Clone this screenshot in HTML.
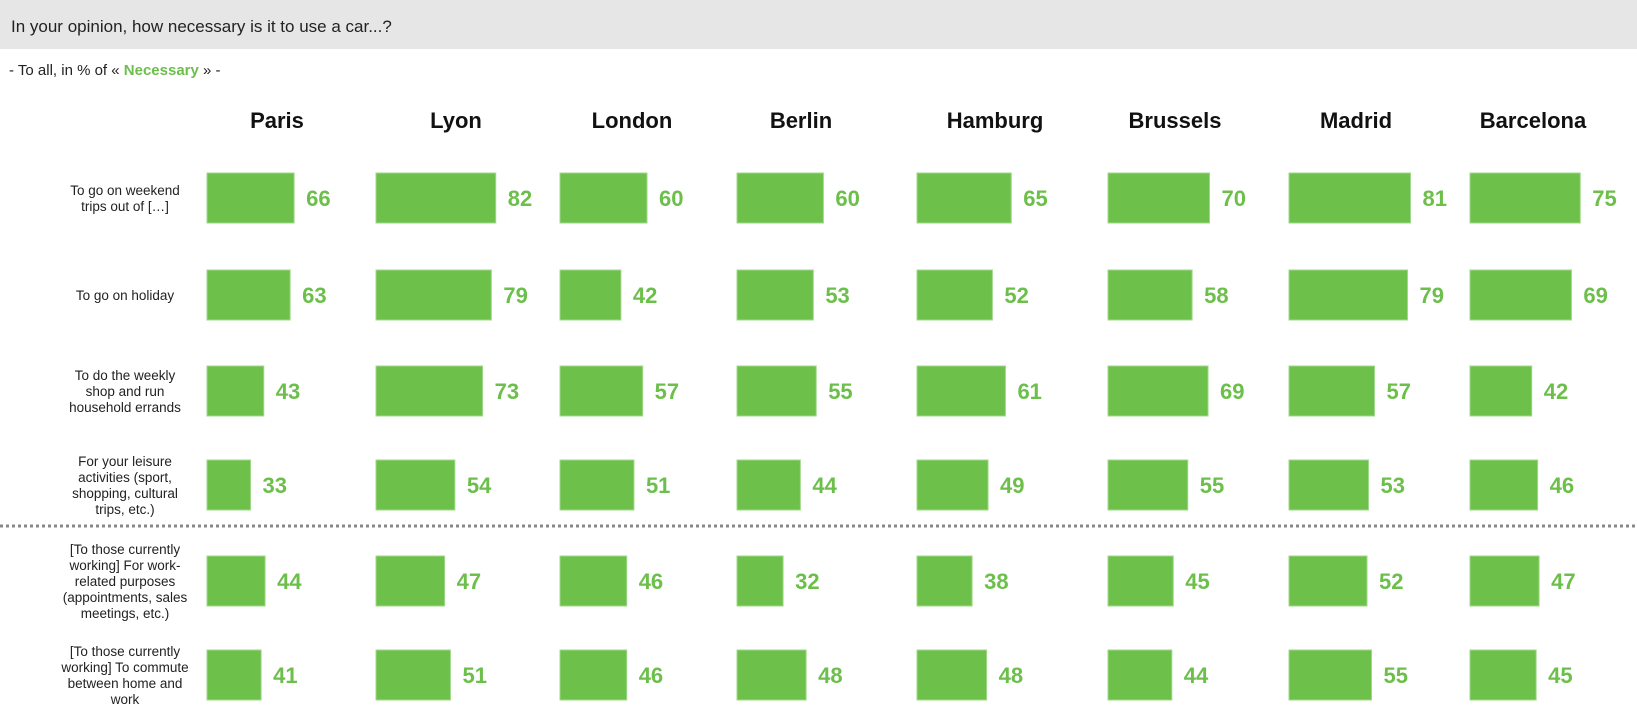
<!DOCTYPE html>
<html><head><meta charset="utf-8">
<style>
body{margin:0;background:#fff;width:1637px;height:722px;overflow:hidden;font-family:"Liberation Sans",Arial,sans-serif;}
svg{display:block}
</style></head>
<body>
<svg id="chart" width="1637" height="722" xmlns="http://www.w3.org/2000/svg" font-family="Liberation Sans, Arial, sans-serif">
<rect x="0" y="0" width="1637" height="49" fill="#e6e6e6"/>
<text x="11" y="32" font-size="17" fill="#222">In your opinion, how necessary is it to use a car...?</text>
<text x="9" y="75" font-size="15" fill="#222">- To all, in % of « <tspan fill="#6cbf4a" font-weight="bold">Necessary</tspan> »  -</text>
<line x1="0" y1="526" x2="1637" y2="526" stroke="#888" stroke-width="3" stroke-dasharray="3,3"/>
<g id="marks"></g>
</svg>
<script>
const cities = ["Paris","Lyon","London","Berlin","Hamburg","Brussels","Madrid","Barcelona"];
const rowLabels = [
 ["To go on weekend","trips out of […]"],
 ["To go on holiday"],
 ["To do the weekly","shop and run","household errands"],
 ["For your leisure","activities (sport,","shopping, cultural","trips, etc.)"],
 ["[To those currently","working] For work-","related purposes","(appointments, sales","meetings, etc.)"],
 ["[To those currently","working] To commute","between home and","work"]
];
const paris = [66,63,43,33,44,41];
const lyon = [82,79,73,54,47,51];
const london = [60,42,57,51,46,46];
const berlin = [60,53,55,44,32,48];
const hamburg = [65,52,61,49,38,48];
const brussels = [70,58,69,55,45,44];
const madrid = [81,79,57,53,52,55];
const barcelona = [75,69,42,46,47,45];
const series = [paris,lyon,london,berlin,hamburg,brussels,madrid,barcelona];

const NS="http://www.w3.org/2000/svg";
const g=document.getElementById('marks');
const colX=[207,376,560,737,917,1108,1289,1470];
const headX=[277,456,632,801,995,1175,1356,1533];
const colScale=[1.32,1.46,1.45,1.44,1.45,1.45,1.5,1.47];
const rowY=[198,295,391,485,581,675];
const barH=50;
function xw(c,v){return v*colScale[c];}
function mk(tag,attrs){const e=document.createElementNS(NS,tag);for(const k in attrs)e.setAttribute(k,attrs[k]);return e;}

cities.forEach((c,i)=>{
  const t=mk('text',{x:headX[i],y:128,'text-anchor':'middle','font-size':22,'font-weight':'bold',fill:'#111'});
  
  
  t.textContent=c;g.appendChild(t);
});
rowLabels.forEach((lines,r)=>{
  const lh=16;const y0=rowY[r]-(lines.length-1)*lh/2+5;
  const t=mk('text',{'text-anchor':'middle','font-size':13.5,fill:'#222'});
  
  
  lines.forEach((l,k)=>{const s=mk('tspan',{x:125,y:y0+k*lh});s.textContent=l;t.appendChild(s);});
  g.appendChild(t);
});
series.forEach((vals,c)=>{
  vals.forEach((v,r)=>{
    const w=xw(c,v);
    const b=mk('rect',{x:colX[c],y:rowY[r]-barH/2,width:w,height:barH,fill:'#6dc04a',stroke:'#9fd88a','stroke-width':1});
    
    
    g.appendChild(b);
    const t=mk('text',{x:colX[c]+w+12,y:rowY[r]+8,'font-size':22,'font-weight':'bold',fill:'#6cbf4a'});
    
    
    t.textContent=v;g.appendChild(t);
  });
});
</script>
</body></html>
